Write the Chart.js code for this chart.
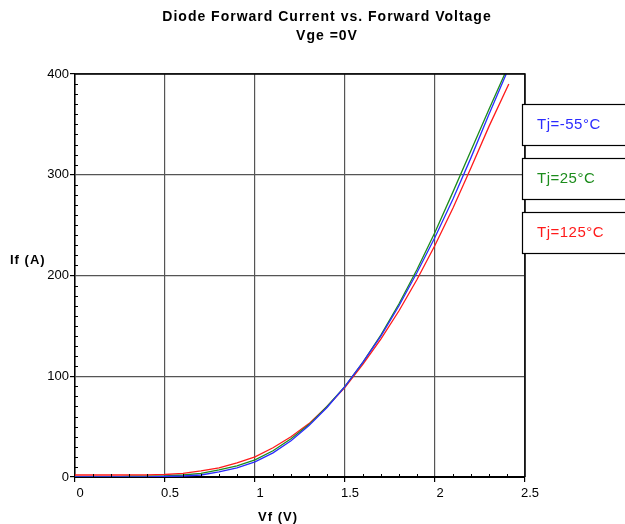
<!DOCTYPE html>
<html>
<head>
<meta charset="utf-8">
<script src="https://cdn.jsdelivr.net/npm/chart.js@4"></script>
<style>
  html, body { margin: 0; padding: 0; background: #fff; }
  #wrap { width: 625px; height: 524px; }
</style>
</head>
<body>
<div id="wrap"><canvas id="myChart"></canvas></div>
<script>
// forward voltage (V) sample points
const vf = [0, 0.1, 0.2, 0.3, 0.4, 0.5, 0.6, 0.7, 0.8, 0.9, 1.0, 1.1, 1.2,
            1.3, 1.4, 1.5, 1.6, 1.7, 1.8, 1.9, 2.0, 2.1, 2.2, 2.3];
// last point of each curve (V)
const vfEnd = [2.41, 2.39, 2.41];

const seriesLabels = ['Tj=-55°C', 'Tj=25°C', 'Tj=125°C'];
const seriesColors = ['#2b2bff', '#1c8c1c', '#ff1a1a'];

// forward current (A)
const ifM55 = [0, 0, 0, 0, 0, 0.5, 1, 2, 5, 9, 15, 24, 36, 51, 69, 90,
               114, 140, 170, 203, 238, 276, 317, 360, 406];
const if25 = [0, 0, 0, 0.5, 0.5, 1, 2, 3.5, 7, 11, 17, 26, 38, 52, 70, 90,
              114, 141, 172, 206, 243, 283, 324, 365, 401];
const if125 = [2, 2, 2, 2, 2, 2.5, 3.5, 6, 9, 14, 20, 29, 40, 53, 70, 89,
               112, 137, 165, 196, 230, 267, 307, 348, 390];

const xTicks = [0, 0.5, 1, 1.5, 2, 2.5];
const yTicks = [0, 100, 200, 300, 400];

function pts(ys, end) {
    return ys.map((y, i) => ({ x: i < vf.length ? vf[i] : end, y: y }));
}

const data = {
    datasets: [ifM55, if25, if125].map((ys, i) => ({
        label: seriesLabels[i],
        data: pts(ys, vfEnd[i]),
        borderColor: seriesColors[i],
        backgroundColor: seriesColors[i],
        borderWidth: 1.3,
        pointRadius: 0,
        tension: 0,
    })),
};

const FONT = "'Liberation Sans', Arial, sans-serif";

// titles, minor ticks, frame and the boxed legend
const decor = {
    id: 'decor',
    afterDraw(chart) {
        const ctx = chart.ctx;
        const xs = chart.scales.x, ys = chart.scales.y;
        const a = chart.chartArea;
        ctx.save();

        // minor ticks
        ctx.strokeStyle = '#000';
        ctx.lineWidth = 1;
        ctx.beginPath();
        for (let v = 10; v < 400; v += 10) {
            if (v % 100 === 0) continue;
            const y = Math.round(ys.getPixelForValue(v)) + 0.5;
            ctx.moveTo(a.left, y); ctx.lineTo(a.left + 3, y);
        }
        for (let k = 1; k < 25; k++) {
            if (k % 5 === 0) continue;
            const x = Math.round(xs.getPixelForValue(k / 10)) + 0.5;
            ctx.moveTo(x, a.bottom); ctx.lineTo(x, a.bottom - 3);
        }
        ctx.stroke();

        // frame top/right
        ctx.lineWidth = 1.5;
        ctx.beginPath();
        ctx.moveTo(a.left, a.top); ctx.lineTo(a.right, a.top); ctx.lineTo(a.right, a.bottom);
        ctx.stroke();

        // titles
        ctx.fillStyle = '#000';
        ctx.textAlign = 'center';
        ctx.textBaseline = 'middle';
        ctx.letterSpacing = '1px';
        ctx.font = 'bold 14px ' + FONT;
        ctx.fillText('Diode Forward Current vs. Forward Voltage', 327, 17);
        ctx.fillText('Vge =0V', 327, 36);
        ctx.font = 'bold 13px ' + FONT;
        ctx.fillText('Vf (V)', 278, 517);
        ctx.textAlign = 'left';
        ctx.fillText('If (A)', 10, 260);

        // legend boxes
        const tops = [104, 158, 212];
        ctx.letterSpacing = '0.5px';
        ctx.font = '15px ' + FONT;
        chart.data.datasets.forEach((ds, i) => {
            ctx.fillStyle = '#fff';
            ctx.fillRect(522, tops[i], 110, 41);
            ctx.strokeStyle = '#000';
            ctx.lineWidth = 1.2;
            ctx.strokeRect(522.5, tops[i] + 0.5, 110, 41);
            ctx.fillStyle = ds.borderColor;
            ctx.fillText(ds.label, 537, tops[i] + 21);
        });
        ctx.restore();
    }
};

const tickFont = { family: FONT, size: 13 };

const config = {
    type: 'line',
    data: data,
    options: {
        responsive: true,
        maintainAspectRatio: false,
        animation: false,
        layout: { padding: { left: 0, top: 74, right: 100, bottom: 0 } },
        plugins: { legend: { display: false }, tooltip: { enabled: false } },
        scales: {
            x: {
                type: 'linear', min: 0, max: 2.5,
                afterFit: s => { s.height = 47; },
                afterBuildTicks: s => { s.ticks = xTicks.map(v => ({ value: v })); },
                grid: { color: '#555', lineWidth: 1.2, tickLength: 5, tickColor: '#000' },
                border: { color: '#000', width: 2 },
                ticks: {
                    color: '#000', font: tickFont, padding: 4, maxRotation: 0,
                    labelOffset: 5,
                    callback: v => String(v),
                },
            },
            y: {
                type: 'linear', min: 0, max: 400,
                afterFit: s => { s.width = 75; },
                afterBuildTicks: s => { s.ticks = yTicks.map(v => ({ value: v })); },
                grid: { color: '#555', lineWidth: 1.2, tickLength: 5, tickColor: '#000' },
                border: { color: '#000', width: 1.5 },
                ticks: { color: '#000', font: tickFont, padding: 1 },
            },
        },
    },
    plugins: [decor],
};

const myChart = new Chart(document.getElementById('myChart'), config);
</script>
</body>
</html>
